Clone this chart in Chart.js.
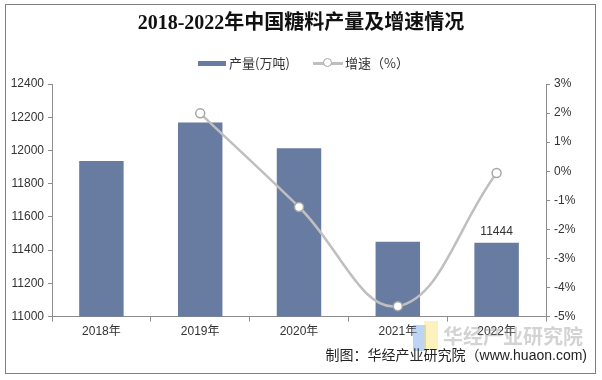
<!DOCTYPE html>
<html>
<head>
<meta charset="utf-8">
<script src="https://cdn.jsdelivr.net/npm/chart.js@4/dist/chart.umd.min.js"></script>
<style>
  html, body { margin: 0; padding: 0; background: #fff; }
  #wrap { position: relative; width: 602px; height: 380px; overflow: hidden; }
  #frame { position: absolute; left: 5px; top: 4px; width: 589px; height: 368px; border: 1px solid #7f7f7f; pointer-events: none; }
  #c { position: absolute; left: 0; top: 0; }
  .lg { position: absolute; top: 53px; font: 13px "Noto Sans CJK SC", sans-serif; color: #333; white-space: nowrap; }
  #footer { position: absolute; right: 15px; top: 344px; font: 14px "Liberation Sans", "Noto Sans CJK SC", sans-serif; color: #222; white-space: nowrap; }
  #wm { position: absolute; left: 443px; top: 321px; font: bold 20px "Noto Sans CJK SC", sans-serif; color: rgba(140,140,140,0.38); white-space: nowrap; }
  .logo { position: absolute; }
</style>
</head>
<body>
<div id="wrap">
  <canvas id="c" width="602" height="380"></canvas>
  <div class="logo" style="left:413px;top:325px;width:13px;height:26px;background:rgba(90,150,230,0.40);"></div>
  <div class="logo" style="left:424px;top:321px;width:14px;height:29px;background:rgba(250,220,90,0.40);"></div>
  <div id="wm">华经产业研究院</div>
  <div id="legend1" class="lg" style="left:198px;"><span style="display:inline-block;width:28px;height:5px;background:#687BA0;vertical-align:middle;margin-right:3px;position:relative;top:-1px;"></span>产量(万吨)</div>
  <div id="legend2" class="lg" style="left:313px;"><span style="display:inline-block;position:relative;width:30px;height:10px;vertical-align:middle;margin-right:2px;top:-1px;"><span style="position:absolute;left:0;top:4px;width:30px;height:2.5px;background:#BFBFBF;"></span><span style="position:absolute;left:10px;top:0;width:7px;height:7px;border:1.5px solid #A6A6A6;border-radius:50%;background:#fff;"></span></span>增速（%）</div>
  <div id="footer">制图：华经产业研究院（www.huaon.com)</div>
  <div id="frame"></div>
</div>
<script>
const categories = ["2018年", "2019年", "2020年", "2021年", "2022年"];
const production = [11937, 12169, 12014, 11451, 11444];
const growth = [null, 1.99, -1.23, -4.64, -0.06];
const leftTicks = [11000, 11200, 11400, 11600, 11800, 12000, 12200, 12400];
const rightTicks = [-5, -4, -3, -2, -1, 0, 1, 2, 3];
const labelledBars = [4];

const FONT = '"Liberation Sans", "Noto Sans CJK SC", sans-serif';

const barLabelPlugin = {
  id: 'barLabel',
  afterDatasetsDraw(chart) {
    const meta = chart.getDatasetMeta(1);
    const ctx = chart.ctx;
    ctx.save();
    ctx.font = '12px ' + FONT;
    ctx.fillStyle = '#333';
    ctx.textAlign = 'center';
    ctx.textBaseline = 'bottom';
    labelledBars.forEach(i => {
      const el = meta.data[i];
      ctx.fillText(String(production[i]), el.x, el.y - 5);
    });
    ctx.restore();
  }
};

new Chart(document.getElementById('c'), {
  data: {
    labels: categories,
    datasets: [
      {
        type: 'line',
        label: '增速（%）',
        data: growth,
        yAxisID: 'y1',
        borderColor: '#BFBFBF',
        borderWidth: 2.5,
        tension: 0.4,
        pointRadius: 4.5,
        pointBackgroundColor: '#fff',
        pointBorderColor: '#A6A6A6',
        pointBorderWidth: 1.5,
        spanGaps: false,
        clip: false,
        order: 0
      },
      {
        type: 'bar',
        label: '产量(万吨)',
        data: production,
        yAxisID: 'y',
        backgroundColor: '#687BA0',
        barPercentage: 0.45,
        categoryPercentage: 1.0,
        order: 1
      }
    ]
  },
  options: {
    responsive: false,
    animation: false,
    layout: { padding: { left: 0, right: 0, top: 0, bottom: 38 } },
    plugins: {
      legend: { display: false },
      tooltip: { enabled: false },
      title: {
        display: true,
        text: '2018-2022年中国糖料产量及增速情况',
        color: '#111',
        font: { family: '"Liberation Serif", "Noto Sans CJK SC", serif', size: 20, weight: 'bold' },
        padding: { top: 12, bottom: 48 }
      }
    },
    scales: {
      x: {
        offset: true,
        grid: { display: true, offset: true, drawOnChartArea: false, drawTicks: true, tickLength: 5, color: '#8c8c8c' },
        border: { display: true, color: '#8c8c8c', width: 1 },
        ticks: { color: '#333', font: { family: FONT, size: 12 }, padding: 3 }
      },
      y: {
        position: 'left',
        min: 11000, max: 12400,
        afterBuildTicks(scale) { scale.ticks = leftTicks.map(v => ({ value: v })); },
        afterFit(scale) { scale.width = 52; },
        grid: { display: true, drawOnChartArea: false, drawTicks: true, tickLength: 4, color: '#8c8c8c' },
        border: { display: true, color: '#8c8c8c', width: 1 },
        ticks: { color: '#333', font: { family: FONT, size: 12 }, padding: 4, callback: v => String(v) }
      },
      y1: {
        position: 'right',
        min: -5, max: 3,
        afterBuildTicks(scale) { scale.ticks = rightTicks.map(v => ({ value: v })); },
        afterFit(scale) { scale.width = 56; },
        grid: { display: true, drawOnChartArea: false, drawTicks: true, tickLength: 4, color: '#8c8c8c' },
        border: { display: true, color: '#8c8c8c', width: 1 },
        ticks: { color: '#333', font: { family: FONT, size: 12 }, padding: 4, callback: v => v + '%' }
      }
    }
  },
  plugins: [barLabelPlugin]
});
</script>
</body>
</html>
